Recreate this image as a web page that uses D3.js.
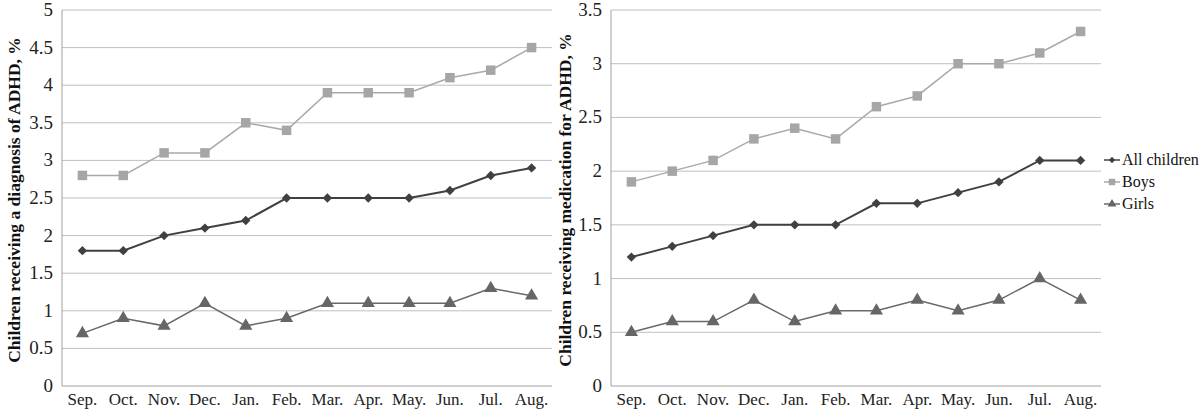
<!DOCTYPE html>
<html>
<head>
<meta charset="utf-8">
<script src="https://cdn.jsdelivr.net/npm/d3@7"></script>
<style>
body{margin:0;background:#fff;}
</style>
</head>
<body>
<div id="chart"></div>
<script>
var months = ["Sep.","Oct.","Nov.","Dec.","Jan.","Feb.","Mar.","Apr.","May.","Jun.","Jul.","Aug."];
var seriesNames = ["All children","Boys","Girls"];

// diagnosis
var diagAll   = [1.8,1.8,2.0,2.1,2.2,2.5,2.5,2.5,2.5,2.6,2.8,2.9];
var diagBoys  = [2.8,2.8,3.1,3.1,3.5,3.4,3.9,3.9,3.9,4.1,4.2,4.5];
var diagGirls = [0.7,0.9,0.8,1.1,0.8,0.9,1.1,1.1,1.1,1.1,1.3,1.2];
var diagTicks = [0,0.5,1,1.5,2,2.5,3,3.5,4,4.5,5];

// medication
var medAll   = [1.2,1.3,1.4,1.5,1.5,1.5,1.7,1.7,1.8,1.9,2.1,2.1];
var medBoys  = [1.9,2.0,2.1,2.3,2.4,2.3,2.6,2.7,3.0,3.0,3.1,3.3];
var medGirls = [0.5,0.6,0.6,0.8,0.6,0.7,0.7,0.8,0.7,0.8,1.0,0.8];
var medTicks = [0,0.5,1,1.5,2,2.5,3,3.5];

var FONT = "'Liberation Serif', 'Times New Roman', 'DejaVu Serif', serif";
var lineCol = {"All children":"#404040","Boys":"#a9a9a9","Girls":"#686868"};
var markCol = {"All children":"#404040","Boys":"#a6a6a6","Girls":"#666666"};
var symb = {"All children":d3.symbolSquare,"Boys":d3.symbolSquare,"Girls":d3.symbolTriangle};
var symSize = {"All children":44,"Boys":90,"Girls":75};
var symRot = {"All children":45,"Boys":0,"Girls":0};

var svg = d3.select("#chart").append("svg").attr("width",1200).attr("height",411)
  .attr("font-family",FONT);

function drawPanel(x0,x1,maxV,ticks,data,title,titleX){
  var x = d3.scaleBand().domain(months).range([x0,x1]);
  var y = d3.scaleLinear().domain([0,maxV]).range([386,10]);
  var g = svg.append("g");
  // gridlines
  g.selectAll("line.grid").data(ticks.slice(1)).enter().append("line")
    .attr("x1",x0).attr("x2",x1).attr("y1",function(d){return y(d);}).attr("y2",function(d){return y(d);})
    .attr("stroke","#bfbfbf").attr("stroke-width",1);
  // axes lines
  g.append("line").attr("x1",x0).attr("x2",x0).attr("y1",y(maxV)).attr("y2",y(0)).attr("stroke","#a0a0a0");
  g.append("line").attr("x1",x0).attr("x2",x1).attr("y1",y(0)).attr("y2",y(0)).attr("stroke","#a0a0a0");
  // y tick labels
  g.selectAll("text.yt").data(ticks).enter().append("text")
    .attr("x",x0-9).attr("y",function(d){return y(d)+6;})
    .attr("text-anchor","end").attr("font-size",19).attr("fill","#222")
    .text(function(d){return d;});
  // x labels
  g.selectAll("text.xt").data(months).enter().append("text")
    .attr("x",function(d){return x(d)+x.bandwidth()/2;}).attr("y",405)
    .attr("text-anchor","middle").attr("font-size",17).attr("fill","#222")
    .text(function(d){return d;});
  // y title
  g.append("text").attr("transform","translate("+titleX+","+(y(maxV/2)+2)+") rotate(-90)")
    .attr("text-anchor","middle").attr("font-size",17.5).attr("font-weight","bold").attr("fill","#111")
    .text(title);
  var line = d3.line().x(function(d,i){return x(months[i])+x.bandwidth()/2;}).y(function(d){return y(d);});
  data.forEach(function(s){
    g.append("path").attr("d",line(s.values)).attr("fill","none")
      .attr("stroke",lineCol[s.name]).attr("stroke-width",s.name=="All children"?2:1.5);
    g.selectAll(null).data(s.values).enter().append("path")
      .attr("d",d3.symbol().type(symb[s.name]).size(symSize[s.name]))
      .attr("transform",function(d,i){return "translate("+(x(months[i])+x.bandwidth()/2)+","+y(d)+") rotate("+symRot[s.name]+")";})
      .attr("fill",markCol[s.name]);
  });
}

drawPanel(62,552,5,diagTicks,
  [{name:"Boys",values:diagBoys},{name:"All children",values:diagAll},{name:"Girls",values:diagGirls}],
  "Children receiving a diagnosis of ADHD, %",20);
drawPanel(611,1101,3.5,medTicks,
  [{name:"Boys",values:medBoys},{name:"All children",values:medAll},{name:"Girls",values:medGirls}],
  "Children receiving medication for ADHD, %",571);

// legend
var leg = svg.append("g");
seriesNames.forEach(function(n,i){
  var ly = 160+i*22;
  leg.append("line").attr("x1",1104).attr("x2",1120).attr("y1",ly).attr("y2",ly)
    .attr("stroke",lineCol[n]).attr("stroke-width",1.5);
  leg.append("path").attr("d",d3.symbol().type(symb[n]).size(symSize[n]*0.45))
    .attr("transform","translate(1112,"+ly+") rotate("+symRot[n]+")").attr("fill",markCol[n]);
  leg.append("text").attr("x",1122).attr("y",ly+5).attr("font-size",16).attr("fill","#111").text(n);
});
</script>
</body>
</html>
